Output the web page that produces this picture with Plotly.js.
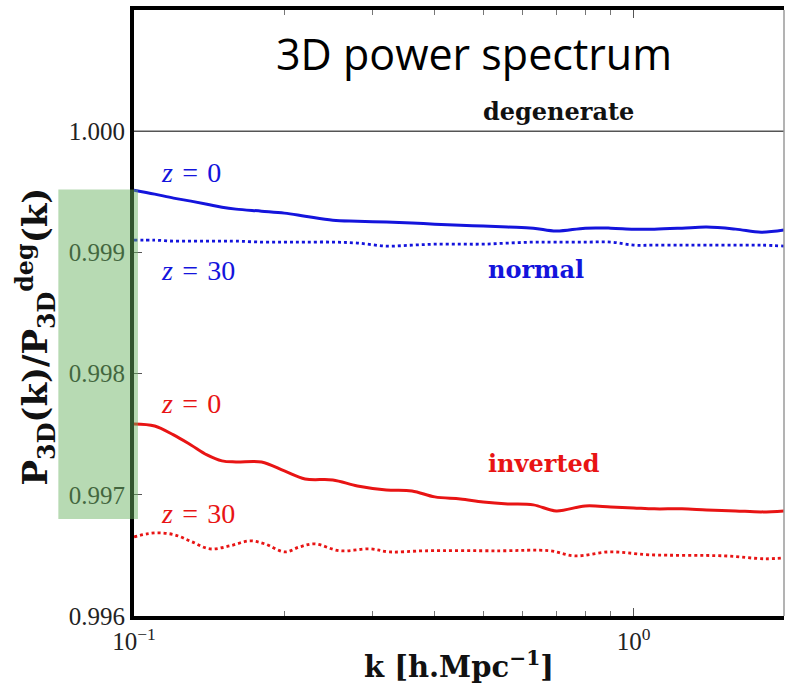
<!DOCTYPE html>
<html>
<head>
<meta charset="utf-8">
<script src="https://cdn.plot.ly/plotly-3.0.1.min.js"></script>
<style>html,body{margin:0;padding:0;background:#fff;}#chart{width:787px;height:693px;}</style>
</head>
<body>
<div id="chart"></div>
<script>
// k grid (h/Mpc) for the smooth curves
var kGrid = [0.10, 0.11, 0.12, 0.13, 0.14, 0.15, 0.16, 0.18, 0.20, 0.22, 0.25, 0.28, 0.32, 0.36, 0.40, 0.45, 0.50, 0.56, 0.63, 0.70, 0.80, 0.90, 1.0, 1.1, 1.25, 1.4, 1.6, 1.8, 2.0];

// normal hierarchy, z = 0 (solid blue)
var normalZ0 = [0.999514, 0.999481, 0.999448, 0.999423, 0.999398, 0.999373, 0.999357, 0.999340, 0.999324, 0.999299, 0.999266, 0.999258, 0.999250, 0.999242, 0.999233, 0.999225, 0.999217, 0.999209, 0.999200, 0.999176, 0.999200, 0.999200, 0.999192, 0.999192, 0.999200, 0.999209, 0.999192, 0.999167, 0.999184];

// normal hierarchy, z = 30 (dotted blue)
var normalZ30 = [0.999101, 0.999101, 0.999093, 0.999093, 0.999093, 0.999093, 0.999093, 0.999085, 0.999085, 0.999085, 0.999085, 0.999077, 0.999052, 0.999060, 0.999068, 0.999068, 0.999068, 0.999077, 0.999085, 0.999085, 0.999085, 0.999085, 0.999060, 0.999060, 0.999060, 0.999060, 0.999060, 0.999060, 0.999052];

// inverted hierarchy, z = 0 (solid red)
var invertedZ0 = [0.997585, 0.997568, 0.997494, 0.997411, 0.997329, 0.997280, 0.997271, 0.997271, 0.997197, 0.997131, 0.997123, 0.997073, 0.997040, 0.997032, 0.996983, 0.996966, 0.996941, 0.996925, 0.996917, 0.996867, 0.996908, 0.996900, 0.996892, 0.996884, 0.996884, 0.996875, 0.996867, 0.996859, 0.996867];

// inverted hierarchy, z = 30 (dotted red) - own k sampling for the wiggles
var kInvZ30 = [0.100, 0.1062, 0.1127, 0.1208, 0.1306, 0.1419, 0.1556, 0.1706, 0.1828, 0.2004, 0.2148, 0.2301, 0.2582, 0.2965, 0.3251, 0.3819, 0.5395, 0.6792, 0.7621, 0.8954, 1.076, 1.521, 1.828, 2.0];
var invertedZ30 = [0.996653, 0.996678, 0.996686, 0.996669, 0.996612, 0.996554, 0.996579, 0.996620, 0.996595, 0.996529, 0.996571, 0.996595, 0.996538, 0.996554, 0.996529, 0.996538, 0.996538, 0.996538, 0.996496, 0.996529, 0.996505, 0.996496, 0.996472, 0.996480];

// degenerate reference
var kDeg = [0.1, 2.0];
var degenerate = [1.0, 1.0];

var yTicks = [0.996, 0.997, 0.998, 0.999, 1.000];
var xTickVals = [0.1, 1];
var xTickText = ['10<sup>\u22121</sup>', '10<sup>0</sup>'];

var blue = '#1414dc';
var red = '#e81414';
var serif = 'Liberation Serif, serif';
var serifB = 'DejaVu Serif, serif';
var zEq = function (n) { return '<i>z</i>\u2004=\u2004' + n; };

var traces = [
  {x: kDeg, y: degenerate, mode: 'lines', line: {color: '#555555', width: 1.6}, hoverinfo: 'skip'},
  {x: kGrid, y: normalZ0, mode: 'lines', line: {color: blue, width: 3, shape: 'spline'}},
  {x: kGrid, y: normalZ30, mode: 'lines', line: {color: blue, width: 2.8, dash: 'dot', shape: 'spline'}},
  {x: kGrid, y: invertedZ0, mode: 'lines', line: {color: red, width: 3, shape: 'spline'}},
  {x: kInvZ30, y: invertedZ30, mode: 'lines', line: {color: red, width: 2.8, dash: 'dot', shape: 'spline'}}
];

var layout = {
  width: 787, height: 693,
  margin: {l: 134, r: 3, t: 10, b: 77},
  paper_bgcolor: '#ffffff', plot_bgcolor: '#ffffff',
  showlegend: false,
  xaxis: {
    type: 'log', range: [-1, Math.log10(2.0)],
    showgrid: false, zeroline: false,
    showline: true, linecolor: '#000', linewidth: 4, mirror: 'allticks',
    ticks: 'inside', ticklen: 8, tickcolor: '#555', tickwidth: 1,
    tickvals: xTickVals, ticktext: xTickText,
    tickfont: {family: serif, size: 25, color: '#222'},
    minor: {ticks: 'inside', ticklen: 5, tickcolor: '#777', tickvals: [0.2,0.3,0.4,0.5,0.6,0.7,0.8,0.9,2]},
    title: {text: '<b>k [h.Mpc<sup>\u22121</sup>]</b>', font: {family: serifB, size: 29, color: '#111'}, standoff: 4}
  },
  yaxis: {
    range: [0.996, 1.001],
    showgrid: false, zeroline: false,
    showline: true, linecolor: '#000', linewidth: 4, mirror: false,
    ticks: 'inside', ticklen: 8, tickcolor: '#555', tickwidth: 1,
    tickvals: yTicks, tickformat: '.3f',
    tickfont: {family: serif, size: 25, color: '#222'}
  },
  shapes: [
    {type: 'line', xref: 'paper', yref: 'paper', x0: 1, x1: 1, y0: 0, y1: 1, line: {color: '#9a9a9a', width: 1.5}},
    {type: 'rect', xref: 'paper', yref: 'paper', x0: -0.1164, x1: 0.0061, y0: 0.160, y1: 0.704, fillcolor: 'rgba(105,177,97,0.48)', line: {width: 0}, layer: 'above'}
  ],
  annotations: [
    {text: '<b>P<sub>3D</sub>(k)/P<sub>3D</sub><sup>deg</sup>(k)</b>', xref: 'paper', yref: 'paper', x: -0.151, y: 0.461, xanchor: 'center', yanchor: 'middle', textangle: -90, showarrow: false, font: {family: serifB, size: 34, color: '#111'}},
    {text: '3D power spectrum', xref: 'paper', yref: 'paper', x: 0.523, y: 0.928, yanchor: 'middle', showarrow: false, font: {family: 'Open Sans, sans-serif', size: 43, color: '#000'}},
    {text: '<b>degenerate</b>', x: Math.log10(0.708), y: 1.000165, yanchor: 'middle', showarrow: false, font: {family: serifB, size: 24, color: '#111'}},
    {text: zEq('0'), x: Math.log10(0.1122), y: 0.999661, yanchor: 'middle', showarrow: false, xanchor: 'left', font: {family: serif, size: 28, color: blue}},
    {text: zEq('30'), x: Math.log10(0.1122), y: 0.998851, yanchor: 'middle', showarrow: false, xanchor: 'left', font: {family: serif, size: 28, color: blue}},
    {text: '<b>normal</b>', x: Math.log10(0.5058), y: 0.998860, yanchor: 'middle', showarrow: false, xanchor: 'left', font: {family: serifB, size: 24, color: blue}},
    {text: zEq('0'), x: Math.log10(0.1122), y: 0.997752, yanchor: 'middle', showarrow: false, xanchor: 'left', font: {family: serif, size: 28, color: red}},
    {text: '<b>inverted</b>', x: Math.log10(0.5058), y: 0.997256, yanchor: 'middle', showarrow: false, xanchor: 'left', font: {family: serifB, size: 24, color: red}},
    {text: zEq('30'), x: Math.log10(0.1122), y: 0.996843, yanchor: 'middle', showarrow: false, xanchor: 'left', font: {family: serif, size: 28, color: red}}
  ]
};

Plotly.newPlot('chart', traces, layout, {staticPlot: true});
</script>
</body>
</html>
